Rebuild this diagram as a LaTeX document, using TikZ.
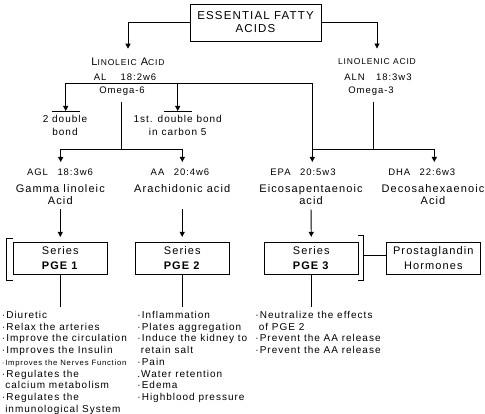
\documentclass[tikz,border=0pt]{standalone}
\usepackage{fontspec}
\setmainfont{Liberation Sans}[LetterSpace=10]
\usetikzlibrary{arrows.meta}
\newcommand{\smc}[1]{{\fontsize{8.5}{10}\selectfont #1}}

\begin{document}
\begin{tikzpicture}[
  x=1pt, y=-1pt, line width=0.9pt,
  font=\fontsize{11}{12}\selectfont,
  txt/.style={inner sep=0pt, align=center},
  code/.style={txt, font=\fontsize{9.5}{10}\selectfont},
  note/.style={txt, font=\fontsize{10}{13}\selectfont},
  pge/.style={draw, minimum width=94pt, minimum height=31.7pt, inner sep=0pt,
    align=center, font=\fontsize{11}{14.3}\selectfont},
  items/.style={anchor=north west, inner sep=0pt, align=left,
    font=\fontsize{10}{11.75}\selectfont},
  arr/.style={-{Triangle[width=5pt,length=5pt]}}
]
\useasboundingbox (0,0) rectangle (485,414);

% title
\node[draw, txt, font=\fontsize{11.5}{13}\selectfont, minimum width=131pt,
  minimum height=37pt] (efa) at (255.5,22.5) {ESSENTIAL FATTY\\ACIDS};

% omega-6 / omega-3 parents
\node[txt] (la) at (128,62) {L\smc{INOLEIC} A\smc{CID}};
\node[code] (la-code) at (125,77.7) {AL\hspace{1.5em}18:2w6};
\node[code] (la-om) at (122,90.7) {Omega-6};
\node[txt, font=\fontsize{8.5}{10}\selectfont] (ln) at (377,62) {LINOLENIC ACID};
\node[code] (ln-code) at (378,77.7) {ALN\hspace{1.2em}18:3w3};
\node[code] (ln-om) at (371,90.7) {Omega-3};

\node[note] (dbl) at (65,125.5) {2 double\\bond};
\node[note] (c5) at (177.7,125.5) {1st. double bond\\in carbon 5};

% derived acids
\node[code] (agl-code) at (60,172.3) {AGL\hspace{1em}18:3w6};
\node[txt] (agl) at (60.3,194.3) {Gamma linoleic\\Acid};
\node[code] (aa-code) at (180,172.3) {AA\hspace{1em}20:4w6};
\node[txt] (aa) at (182.2,188.3) {Arachidonic acid};
\node[code] (epa-code) at (303,172.3) {EPA\hspace{1em}20:5w3};
\node[txt] (epa) at (311,194.3) {Eicosapentaenoic\\acid};
\node[code] (dha-code) at (421.7,172.7) {DHA\hspace{1em}22:6w3};
\node[txt] (dha) at (433,194.3) {Decosahexaenoic\\Acid};

% series
\node[pge] (pge1) at (60.3,258.2) {Series\\\textbf{PGE 1}};
\node[pge] (pge2) at (182.2,258.2) {Series\\\textbf{PGE 2}};
\node[pge] (pge3) at (311.3,258.2) {Series\\\textbf{PGE 3}};
\node[pge, minimum width=93.3pt] (horm) at (433.3,258.2) {Prostaglandin\\Hormones};

% effects
\node[items] (eff1) at (1.5,310.7) {·Diuretic\\·Relax the arteries\\·Improve the circulation\\
  ·Improves the Insulin\\{\fontsize{7.7}{8}\selectfont ·Improves the Nerves Function}\\
  ·Regulates the\\\phantom{·}calcium metabolism\\·Regulates the\\\phantom{·}inmunological System};
\node[items] (eff2) at (137,310.7) {·Inflammation\\·Plates aggregation\\·Induce the kidney to\\
  \phantom{·}retain salt\\·Pain\\.Water retention\\·Edema\\·Highblood pressure};
\node[items] (eff3) at (255,310.7) {·Neutralize the effects\\\phantom{·}of PGE 2\\
  ·Prevent the AA release\\·Prevent the AA release};

% junctions
\coordinate (la-w) at (65.7,83.3);
\coordinate (la-e) at (312.3,83.3);
\coordinate (dbl-bar) at (65.7,111);
\coordinate (c5-bar) at (177.7,111);
\coordinate (w6-top) at (121.7,102);
\coordinate (w6-j) at (121.7,149);
\coordinate (w3-top) at (373.3,102);
\coordinate (w3-j) at (373.3,149);
\coordinate (agl-j) at (60.7,149);
\coordinate (aa-j) at (182.3,149);
\coordinate (epa-j) at (312.3,149);
\coordinate (dha-j) at (434.3,149);
\coordinate (agl-in) at (60.7,162);
\coordinate (aa-in) at (182.3,162);
\coordinate (epa-in) at (312.3,162);
\coordinate (dha-in) at (434.3,162);
\coordinate (brk) at (363.3,255.7);

\draw[arr] (efa.west) -| ([yshift=9pt]la.north);
\draw[arr] (efa.east) -| ([yshift=10pt]ln.north);

\draw (la-w) -- (la-e) -- (epa-j);
\draw[arr] (la-w) -- (dbl-bar);
\draw[arr] (la-w -| c5-bar) -- (c5-bar);
\draw (dbl-bar) ++(-14,0) -- ++(28,0);
\draw (c5-bar) ++(-14,0) -- ++(28,0);

\draw (w6-top) -- (w6-j);
\draw (agl-j) -- (aa-j);
\draw (w3-top) -- (w3-j);
\draw (epa-j) -- (dha-j);
\draw[arr] (agl-j) -- (agl-in);
\draw[arr] (aa-j) -- (aa-in);
\draw[arr] (epa-j) -- (epa-in);
\draw[arr] (dha-j) -- (dha-in);

\draw[arr, shorten <=4.7pt, shorten >=5pt] (agl.south) -- (pge1.north);
\draw[arr, shorten <=4.7pt, shorten >=5pt] (aa |- agl.south) -- (pge2.north);
\draw[arr, shorten <=4.7pt, shorten >=5pt] (epa.south) -- (pge3.north);

% brackets
\draw (12.7,238) -| (6.7,280) -- (12.7,280);
\draw (358.3,235) -| (363.3,280) -- (358.3,280);
\draw (brk) -- (brk -| horm.west);

\draw[shorten >=4pt] (pge1.south) -- (pge1.south |- eff1.north);
\draw[shorten >=4pt] (pge2.south) -- (pge2.south |- eff2.north);
\draw[shorten >=4pt] (pge3.south) -- (pge3.south |- eff3.north);
\end{tikzpicture}
\end{document}
